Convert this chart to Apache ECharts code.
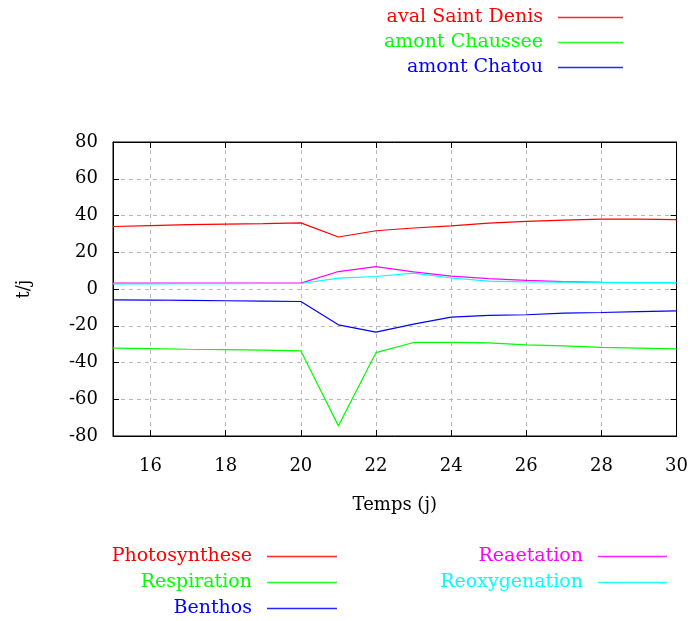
<!DOCTYPE html>
<html><head><meta charset="utf-8">
<script src="https://cdn.jsdelivr.net/npm/echarts@6/dist/echarts.min.js"></script>
<style>html,body{margin:0;padding:0;background:#fff}#c{width:691px;height:621px}</style>
</head><body><div id="c"></div>
<script>
const days = [15,16,17,18,19,20,21,22,23,24,25,26,27,28,29,30];
const photosynthese = [34,34.5,35,35.3,35.6,36,28.3,31.7,33.2,34.4,35.8,36.8,37.5,38,38,37.8];
const respiration = [-32.2,-32.5,-32.8,-33,-33.3,-33.7,-74.5,-34.6,-29.1,-29,-29.3,-30.4,-31,-31.8,-32.2,-32.6];
const benthos = [-5.9,-6,-6.2,-6.4,-6.6,-6.8,-19.5,-23.5,-19.1,-15.3,-14.4,-14,-13.1,-12.8,-12.3,-11.9];
const reaeration = [3.2,3.2,3.2,3.2,3.2,3.2,9.5,12.2,9.3,7,5.7,4.7,4,3.6,3.5,3.5];
const reoxygenation = [2.8,2.8,2.9,2.9,3,3,5.9,6.8,8.6,6,4.3,3.9,3.7,3.6,3.5,3.5];
const siteNames = ['aval Saint Denis','amont Chaussee','amont Chatou'];
const processNames = ['Photosynthese','Respiration','Benthos','Reaetation','Reoxygenation'];
const xTickValues = [16,18,20,22,24,26,28,30];
const yTicks = {min:-80, max:80, interval:20};

const FONT = 'DejaVu Serif';
const colors = ['#ff0000','#00ff00','#0000ff','#ff00ff','#00ffff'];
const procData = [photosynthese, respiration, benthos, reaeration, reoxygenation];
const pair = arr => days.map((d,i)=>[d,arr[i]]);

const series = [];
processNames.forEach((n,i)=>series.push({name:n,type:'line',data:pair(procData[i]),symbol:'none',
  lineStyle:{width:1.2,color:colors[i]},itemStyle:{color:colors[i]},animation:false}));
siteNames.forEach((n,i)=>series.push({name:n,type:'line',data:[],symbol:'none',
  lineStyle:{width:1.2,color:colors[i]},itemStyle:{color:colors[i]},animation:false}));

function leg(name,color,right,top,w){
  return {data:[{name:name,icon:'rect',itemStyle:{color:color,borderWidth:0,opacity:0.85},lineStyle:{color:color}}],
    right:right,top:top,align:'right',orient:'vertical',itemWidth:w,itemHeight:1.3,
    padding:0,selectedMode:false,
    textStyle:{color:color,fontFamily:FONT,fontSize:19,padding:[0,10,0,0]}};
}
const legends = [
  leg(siteNames[0],colors[0],68,8,65),
  leg(siteNames[1],colors[1],68,33,65),
  leg(siteNames[2],colors[2],68,58,65),
  leg(processNames[0],colors[0],354,547,70),
  leg(processNames[1],colors[1],354,573,70),
  leg(processNames[2],colors[2],354,599,70),
  leg(processNames[3],colors[3],24,547,69),
  leg(processNames[4],colors[4],24,573,69),
];

const gridLine = {show:true,customValues:xTickValues,lineStyle:{color:'#b8b8b8',type:[4,4],width:1}};
const chart = echarts.init(document.getElementById('c'),null,{renderer:'canvas'});
chart.setOption({
  backgroundColor:'#fff',
  animation:false,
  legend:legends,
  grid:{left:113,right:13,top:142,bottom:185,show:true,borderColor:'#000',borderWidth:1},
  xAxis:[{type:'value',min:15,max:30,
    axisLine:{show:true,onZero:false,lineStyle:{color:'#000'}},
    axisTick:{inside:true,length:6,customValues:xTickValues,lineStyle:{color:'#000'}},
    splitLine:gridLine,
    axisLabel:{color:'#000',fontFamily:FONT,fontSize:18,margin:21,customValues:xTickValues},
    name:'Temps (j)',nameLocation:'middle',nameGap:60,
    nameTextStyle:{color:'#000',fontFamily:FONT,fontSize:18}},
   {type:'value',position:'top',min:15,max:30,
    axisLine:{show:true,onZero:false,lineStyle:{color:'#000'}},
    axisTick:{inside:true,length:6,customValues:xTickValues,lineStyle:{color:'#000'}},
    axisLabel:{show:false},splitLine:{show:false}}],
  yAxis:[{type:'value',min:yTicks.min,max:yTicks.max,interval:yTicks.interval,
    axisLine:{show:true,onZero:false,lineStyle:{color:'#000'}},
    axisTick:{show:true,inside:true,length:6,lineStyle:{color:'#000'}},
    splitLine:{show:true,lineStyle:{color:'#b8b8b8',type:[4,4],width:1}},
    axisLabel:{color:'#000',fontFamily:FONT,fontSize:18,margin:15},
    name:'t/j',nameLocation:'middle',nameGap:80,nameRotate:90,
    nameTextStyle:{color:'#000',fontFamily:FONT,fontSize:18}},
   {type:'value',position:'right',min:yTicks.min,max:yTicks.max,interval:yTicks.interval,
    axisLine:{show:true,onZero:false,lineStyle:{color:'#000'}},
    axisTick:{show:true,inside:true,length:6,lineStyle:{color:'#000'}},
    axisLabel:{show:false},splitLine:{show:false}}],
  series:series
});
</script></body></html>
